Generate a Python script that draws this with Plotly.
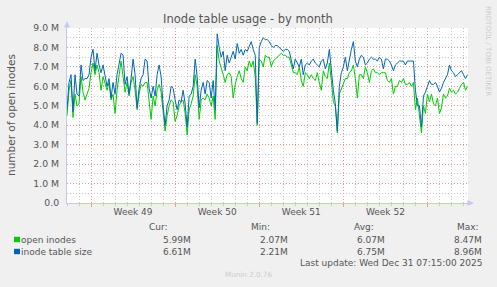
import pandas as pd
import plotly.graph_objects as go

# ---------------- data ----------------
start_time = "2025-11-28 00:00"
step = "4h"

inode_table_size = [
    4.8, 6.2, 6.6, 4.7, 6.6, 5.6, 5.5, 7.1, 6.3, 6.4,
    6.4, 6.6, 7.5, 7.9, 6.8, 7.7, 7.1, 6.7, 7.1, 6.5,
    6.0, 6.4, 5.4, 6.2, 5.6, 6.6, 7.2, 7.7, 7.6, 6.1,
    6.5, 5.6, 6.4, 7.4, 6.6, 4.9, 5.9, 6.4, 6.6, 7.4,
    7.3, 5.9, 5.4, 6.0, 5.5, 6.6, 7.1, 6.5, 5.0, 4.0,
    5.0, 5.3, 6.0, 5.9, 5.3, 4.8, 5.3, 5.2, 5.8, 5.1,
    3.9, 5.5, 5.6, 6.0, 7.4, 6.5, 4.9, 5.8, 6.2, 5.6,
    6.3, 6.2, 5.4, 6.3, 4.8, 8.7, 8.0, 7.5, 7.8, 6.8,
    7.6, 7.2, 7.5, 7.8, 7.4, 8.2, 7.7, 7.9, 7.6, 7.9,
    7.8, 8.1, 8.3, 7.9, 7.6, 4.1, 8.0, 8.3, 8.5, 8.4,
    8.4, 8.3, 8.1, 8.0, 8.1, 8.1, 8.0, 7.9, 7.8, 7.9,
    7.9, 7.8, 7.4, 6.9, 7.4, 7.2, 7.0, 7.4, 6.6, 7.1,
    7.2, 7.1, 7.3, 7.4, 7.2, 7.1, 7.0, 7.3, 7.4, 6.9,
    7.2, 7.9, 6.7, 5.8, 5.1, 3.7, 6.0, 6.7, 7.0, 7.5,
    6.8, 7.4, 7.9, 8.3, 7.3, 7.0, 7.4, 7.6, 7.5, 7.1,
    7.2, 7.4, 7.5, 7.4, 7.4, 7.3, 7.5, 7.4, 6.9, 7.4,
    7.4, 7.3, 7.1, 6.8, 7.1, 7.2, 7.3, 7.3, 7.3, 7.1,
    7.3, 7.3, 7.3, 7.3, 5.8, 5.0, 5.0, 3.9, 5.5, 5.7,
    6.0, 6.3, 6.1, 6.1, 6.2, 6.0, 5.7, 5.9, 6.2, 6.4,
    6.6, 7.1, 6.8, 6.7, 6.5, 6.6, 6.7, 6.8, 6.6, 6.4, 6.6,
]

open_inodes = [
    4.5, 5.8, 6.3, 4.4, 5.6, 5.0, 5.1, 6.5, 5.7, 5.3,
    5.6, 5.9, 6.7, 7.2, 6.6, 7.1, 6.7, 5.8, 6.5, 6.2,
    5.8, 6.2, 5.3, 5.6, 4.6, 5.8, 6.6, 7.3, 6.5, 5.7,
    6.2, 5.5, 6.2, 6.5, 5.8, 4.8, 5.6, 6.1, 6.0, 6.2,
    6.2, 5.2, 4.3, 5.5, 5.0, 5.8, 6.1, 5.7, 4.5, 3.7,
    4.5, 5.0, 5.3, 5.2, 4.2, 4.5, 5.0, 5.2, 5.3, 4.6,
    3.5, 4.8, 5.1, 5.5, 6.6, 6.0, 4.3, 5.3, 5.4, 5.3,
    5.6, 5.4, 5.0, 5.5, 4.3, 8.1, 7.3, 7.0, 6.6, 6.2,
    6.6, 6.7, 6.5, 5.4, 6.1, 6.5, 6.8, 6.4, 6.2, 7.0,
    6.8, 7.3, 7.0, 7.3, 6.5, 4.0, 7.4, 7.3, 7.0, 7.6,
    7.5, 7.5, 7.0, 7.3, 7.4, 7.5, 7.6, 7.7, 7.6, 7.6,
    7.5, 7.5, 7.1, 6.7, 6.7, 6.6, 7.0, 6.3, 6.0, 6.7,
    6.6, 6.4, 6.6, 6.4, 6.3, 6.7, 6.2, 5.8, 6.8, 6.5,
    6.4, 7.2, 6.3, 5.2, 5.0, 3.6, 5.6, 5.9, 6.1, 6.4,
    6.4, 6.7, 6.8, 7.1, 6.4, 5.4, 6.6, 6.6, 6.4, 7.0,
    6.7, 6.2, 6.8, 6.9, 6.7, 6.7, 6.6, 6.7, 6.7, 6.7,
    6.3, 6.2, 6.4, 5.6, 6.0, 6.0, 6.3, 6.2, 6.4, 6.1,
    6.1, 6.2, 6.0, 6.2, 4.8, 5.4, 4.5, 3.6, 5.0, 4.6,
    5.6, 5.2, 5.6, 5.1, 5.0, 5.4, 4.6, 4.9, 5.6, 5.4,
    5.5, 5.9, 5.7, 5.8, 5.6, 5.7, 5.9, 6.1, 6.2, 5.8, 6.0,
]

series_names = ["open inodes", "inode table size"]
series_colors = ["#00cc00", "#0066b3"]
legend_cur = ["5.99M", "6.61M"]
legend_min = ["2.07M", "2.21M"]
legend_avg = ["6.07M", "6.75M"]
legend_max = ["8.47M", "8.96M"]

y_tick_values = [0, 1e6, 2e6, 3e6, 4e6, 5e6, 6e6, 7e6, 8e6, 9e6]
y_tick_labels = ["0.0", "1.0 M", "2.0 M", "3.0 M", "4.0 M", "5.0 M",
                 "6.0 M", "7.0 M", "8.0 M", "9.0 M"]
week_label_times = ["2025-12-03 12:00", "2025-12-10 12:00",
                    "2025-12-17 12:00", "2025-12-24 12:00"]
week_labels = ["Week 49", "Week 50", "Week 51", "Week 52"]
x_range = ["2025-11-28 00:00", "2025-12-31 09:00"]

title_text = "Inode table usage - by month"
y_title = "number of open inodes"
last_update = "Last update: Wed Dec 31 07:15:00 2025"
munin_version = "Munin 2.0.76"
side_text = "RRDTOOL / TOBI OETIKER"

# ---------------- figure ----------------
W, H = 497, 287
L, R, T, B = 67, 468, 28, 203


def px(x):
    return (x - L) / (R - L)


def py(y):
    return (B - y) / (B - T)


times = pd.date_range(start=start_time, periods=len(open_inodes), freq=step)
FONT = "DejaVu Sans"
TXT = "#555555"
MAJ = "#e89a9a"
MIN = "#c8c8c8"
DOT = "1px,2px"

fig = go.Figure()
for vals, name, col in [(open_inodes, series_names[0], series_colors[0]),
                        (inode_table_size, series_names[1], series_colors[1])]:
    fig.add_trace(go.Scatter(
        x=times, y=[v * 1e6 for v in vals], mode="lines", name=name,
        line=dict(color=col, width=1), hoverinfo="skip", showlegend=False))

# invisible trace on the label axis
fig.add_trace(go.Scatter(x=[times[0]], y=[None], xaxis="x2", showlegend=False,
                         hoverinfo="skip"))

fig.update_layout(
    width=W, height=H,
    margin=dict(l=L, r=W - R, t=T, b=H - B),
    paper_bgcolor="#f0f0f0", plot_bgcolor="#ffffff",
    font=dict(family=FONT, size=9, color=TXT),
    title=dict(text=title_text, x=248 / W, xanchor="center",
               y=1 - 19 / H, yanchor="middle", yref="container",
               font=dict(size=11.5, color=TXT, family=FONT)),
    xaxis=dict(
        type="date", range=x_range, showticklabels=False,
        tick0="2025-11-30", dtick=7 * 86400000,
        showgrid=True, gridcolor=MAJ, griddash=DOT, gridwidth=1,
        ticks="outside", ticklen=3, tickcolor=MAJ,
        minor=dict(tick0="2025-11-30", dtick=86400000, showgrid=True,
                   gridcolor=MIN, griddash=DOT, gridwidth=1,
                   ticks="outside", ticklen=2, tickcolor="#c8c8c8"),
        showline=True, linecolor="#c4c8ec", linewidth=1, zeroline=False,
    ),
    xaxis2=dict(
        type="date", range=x_range, overlaying="x", side="bottom", anchor="y",
        tickmode="array", tickvals=week_label_times, ticktext=week_labels,
        showgrid=False, ticks="", showline=False, zeroline=False,
        tickfont=dict(size=9, color=TXT), ticklabelstandoff=2,
    ),
    yaxis=dict(
        range=[0, 9e6], tickmode="array", tickvals=y_tick_values,
        ticktext=y_tick_labels, showgrid=True, gridcolor=MAJ,
        griddash=DOT, gridwidth=1, zeroline=False,
        minor=dict(dtick=5e5, showgrid=True, gridcolor=MIN,
                   griddash=DOT, gridwidth=1),
        showline=True, linecolor="#c4c8ec", linewidth=1,
        ticks="", ticklabelstandoff=5, tickfont=dict(size=9.3, color=TXT),
    ),
)

ann = []
ann.append(dict(text=y_title, x=px(11), y=py(115), textangle=-90,
                font=dict(size=10.5, color=TXT)))
ann.append(dict(text=side_text, x=px(488), y=py(51), textangle=90,
                font=dict(size=7, color="#cccccc")))
ann.append(dict(text=munin_version, x=px(248.5), y=py(274),
                font=dict(size=7.2, color="#cccccc")))
# legend table headers
for label, xl in [("Cur:", 148), ("Min:", 250), ("Avg:", 353), ("Max:", 455.5)]:
    ann.append(dict(text=label, x=px(xl), y=py(226.5), xanchor="left"))
rows_y = [239.5, 251.5]
for i in range(2):
    ann.append(dict(text=series_names[i], x=px(20), y=py(rows_y[i]), xanchor="left"))
    for vals, xr in [(legend_cur, 191.5), (legend_min, 288.5),
                     (legend_avg, 386), (legend_max, 482.5)]:
        ann.append(dict(text=vals[i], x=px(xr), y=py(rows_y[i]), xanchor="right"))
ann.append(dict(text=last_update, x=px(482.5), y=py(263), xanchor="right"))
for a in ann:
    a.setdefault("xanchor", "center")
    a.update(xref="paper", yref="paper", yanchor="middle", showarrow=False,
             borderpad=0)
fig.update_layout(annotations=ann)

shapes = []
# legend colour squares
for i, yc in enumerate(rows_y):
    shapes.append(dict(type="rect", xref="paper", yref="paper",
                       x0=px(14), x1=px(20), y0=py(yc - 2.7), y1=py(yc + 2.7),
                       fillcolor=series_colors[i], line=dict(width=0)))
# axis arrows
shapes.append(dict(type="path", xref="paper", yref="paper",
                   path=f"M {px(64)} {py(27.5)} L {px(70)} {py(27.5)} L {px(67)} {py(21)} Z",
                   fillcolor="#c4c8f4", line=dict(width=0)))
shapes.append(dict(type="path", xref="paper", yref="paper",
                   path=f"M {px(467.5)} {py(200)} L {px(467.5)} {py(206)} L {px(474)} {py(203)} Z",
                   fillcolor="#c4c8f4", line=dict(width=0)))
fig.update_layout(shapes=shapes)

fig.write_html("out.html")
